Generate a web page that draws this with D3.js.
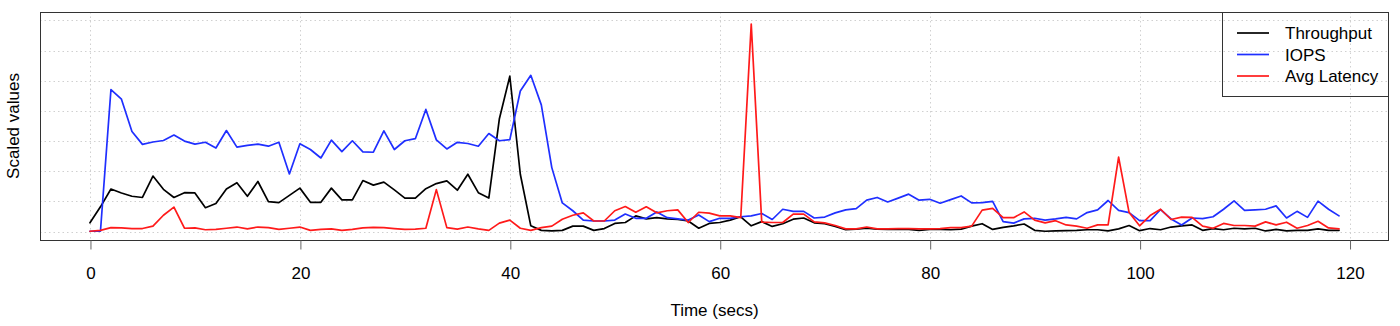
<!DOCTYPE html>
<html>
<head>
<meta charset="utf-8">
<script src="https://cdn.jsdelivr.net/npm/d3@7/dist/d3.min.js"></script>
<style>
  html, body { margin: 0; padding: 0; background: #fff; }
  svg { display: block; font-family: "Liberation Sans", Arial, Helvetica, sans-serif; }
</style>
</head>
<body>
<svg id="chart" width="1400" height="326"></svg>
<script>
// Per-second samples, scaled onto a common axis
const seconds = d3.range(0, 120);

const throughput = [
  0.29, 0.82, 1.41, 1.28, 1.17, 1.13, 1.84, 1.40, 1.13, 1.29,
  1.28, 0.79, 0.93, 1.41, 1.62, 1.17, 1.66, 0.99, 0.96, 1.20,
  1.44, 0.97, 0.97, 1.44, 1.05, 1.05, 1.69, 1.54, 1.64, 1.38,
  1.11, 1.11, 1.42, 1.59, 1.68, 1.37, 1.90, 1.29, 1.11, 3.73,
  5.15, 1.90, 0.19, 0.04, 0.02, 0.04, 0.18, 0.18, 0.04, 0.10,
  0.27, 0.30, 0.52, 0.42, 0.46, 0.42, 0.40, 0.35, 0.11, 0.27,
  0.30, 0.38, 0.49, 0.19, 0.33, 0.17, 0.26, 0.41, 0.45, 0.29,
  0.26, 0.17, 0.06, 0.08, 0.11, 0.08, 0.07, 0.07, 0.07, 0.04,
  0.07, 0.07, 0.06, 0.08, 0.18, 0.26, 0.07, 0.14, 0.19, 0.25,
  0.04, 0.01, 0.02, 0.03, 0.04, 0.06, 0.06, 0.02, 0.09, 0.20,
  0.03, 0.10, 0.06, 0.15, 0.19, 0.22, 0.04, 0.10, 0.06, 0.11,
  0.09, 0.11, 0.02, 0.07, 0.02, 0.04, 0.04, 0.09, 0.04, 0.04
];

const iops = [
  0.01, 0.01, 4.71, 4.39, 3.32, 2.89, 2.97, 3.02, 3.20, 3.00,
  2.90, 2.96, 2.77, 3.35, 2.80, 2.86, 2.90, 2.83, 2.96, 1.91,
  2.91, 2.72, 2.44, 3.03, 2.65, 3.01, 2.64, 2.63, 3.34, 2.72,
  3.01, 3.08, 4.05, 3.04, 2.74, 2.96, 2.92, 2.83, 3.25, 3.01,
  3.05, 4.66, 5.18, 4.20, 2.12, 0.95, 0.69, 0.38, 0.35, 0.35,
  0.38, 0.58, 0.44, 0.44, 0.65, 0.46, 0.42, 0.38, 0.55, 0.33,
  0.44, 0.44, 0.49, 0.52, 0.60, 0.40, 0.74, 0.67, 0.67, 0.45,
  0.48, 0.62, 0.72, 0.76, 1.04, 1.13, 0.98, 1.11, 1.24, 1.04,
  1.07, 0.94, 1.06, 1.18, 0.95, 0.96, 1.00, 0.33, 0.28, 0.42,
  0.44, 0.38, 0.42, 0.47, 0.42, 0.63, 0.72, 1.03, 0.70, 0.63,
  0.36, 0.36, 0.73, 0.42, 0.22, 0.45, 0.43, 0.49, 0.74, 1.02,
  0.70, 0.72, 0.74, 0.85, 0.45, 0.67, 0.47, 1.01, 0.74, 0.52
];

const avgLatency = [
  0.01, 0.04, 0.13, 0.12, 0.10, 0.10, 0.18, 0.54, 0.81, 0.11,
  0.12, 0.06, 0.07, 0.11, 0.15, 0.09, 0.15, 0.13, 0.07, 0.11,
  0.15, 0.04, 0.07, 0.09, 0.04, 0.07, 0.12, 0.14, 0.13, 0.10,
  0.07, 0.08, 0.11, 1.39, 0.13, 0.08, 0.15, 0.09, 0.04, 0.28,
  0.38, 0.11, 0.04, 0.13, 0.18, 0.41, 0.54, 0.62, 0.35, 0.35,
  0.69, 0.83, 0.64, 0.82, 0.62, 0.69, 0.72, 0.30, 0.64, 0.61,
  0.52, 0.52, 0.46, 6.88, 0.31, 0.30, 0.30, 0.58, 0.58, 0.32,
  0.29, 0.20, 0.09, 0.09, 0.15, 0.09, 0.09, 0.10, 0.10, 0.09,
  0.09, 0.10, 0.13, 0.13, 0.18, 0.71, 0.77, 0.46, 0.46, 0.65,
  0.38, 0.29, 0.36, 0.22, 0.18, 0.11, 0.22, 0.22, 2.47, 0.63,
  0.19, 0.53, 0.74, 0.40, 0.48, 0.47, 0.18, 0.11, 0.27, 0.20,
  0.20, 0.18, 0.32, 0.22, 0.31, 0.11, 0.20, 0.34, 0.12, 0.09
];

const xTicks = [0, 20, 40, 60, 80, 100, 120];
const yGrid = [0, 1, 2, 3, 4, 5, 6, 7];

const seriesNames = ["Throughput", "IOPS", "Avg Latency"];
const seriesColors = ["#000000", "#1f2fff", "#ff1a1a"];
const seriesValues = [throughput, iops, avgLatency];

// Plot region
const box = { left: 40, right: 1389, top: 12, bottom: 240 };

// Data extents with 4% padding on each side
const xMin = 0, xMax = 119, yMin = 0, yMax = 7;
const xPad = (xMax - xMin) * 0.04, yPad = (yMax - yMin) * 0.04;

const x = d3.scaleLinear().domain([xMin - xPad, xMax + xPad]).range([box.left, box.right]);
const y = d3.scaleLinear().domain([yMin - yPad, yMax + yPad]).range([box.bottom, box.top]);

const svg = d3.select("#chart");

// Dotted grid
const grid = svg.append("g")
  .attr("stroke", "#d0d0d0")
  .attr("stroke-width", 1)
  .attr("stroke-dasharray", "1.5,3");
grid.selectAll("line.v").data(xTicks).join("line")
  .attr("class", "v")
  .attr("x1", d => Math.round(x(d)) + 0.5).attr("x2", d => Math.round(x(d)) + 0.5)
  .attr("y1", box.top).attr("y2", box.bottom);
grid.selectAll("line.h").data(yGrid).join("line")
  .attr("class", "h")
  .attr("x1", box.left).attr("x2", box.right)
  .attr("y1", d => Math.round(y(d)) + 0.5).attr("y2", d => Math.round(y(d)) + 0.5);

// Series lines
const line = d3.line()
  .x((d, i) => x(seconds[i]))
  .y(d => y(d));

svg.append("g")
  .attr("fill", "none")
  .attr("stroke-width", 1.7)
  .attr("stroke-linejoin", "round")
  .attr("stroke-linecap", "round")
  .selectAll("path")
  .data(seriesValues)
  .join("path")
  .attr("stroke", (d, i) => seriesColors[i])
  .attr("d", line);

// Frame
svg.append("rect")
  .attr("x", box.left + 0.5).attr("y", box.top + 0.5)
  .attr("width", box.right - box.left - 1).attr("height", box.bottom - box.top)
  .attr("fill", "none")
  .attr("stroke", "#333")
  .attr("stroke-width", 1);

// Bottom axis
const xAxis = d3.axisBottom(x)
  .tickValues(xTicks)
  .tickSize(9)
  .tickPadding(17)
  .tickFormat(d3.format("d"));
const gx = svg.append("g")
  .attr("transform", `translate(0.5,${box.bottom + 0.5})`)
  .call(xAxis);
gx.select(".domain").remove();
gx.selectAll(".tick line").attr("stroke", "#666");
gx.selectAll(".tick text")
  .attr("fill", "#000")
  .style("font-size", "17px")
  .style("font-family", "'Liberation Sans', Arial, Helvetica, sans-serif");

// Axis titles
svg.append("text")
  .attr("x", (box.left + box.right) / 2)
  .attr("y", 316)
  .attr("text-anchor", "middle")
  .style("font-size", "17px")
  .text("Time (secs)");

svg.append("text")
  .attr("transform", `translate(19,${(box.top + box.bottom) / 2}) rotate(-90)`)
  .attr("text-anchor", "middle")
  .style("font-size", "17px")
  .text("Scaled values");

// Legend
const legend = { left: 1222, top: 12, bottom: 96, right: box.right };
svg.append("rect")
  .attr("x", legend.left + 0.5).attr("y", legend.top + 0.5)
  .attr("width", legend.right - legend.left - 1).attr("height", legend.bottom - legend.top)
  .attr("fill", "none")
  .attr("stroke", "#333")
  .attr("stroke-width", 1);

const rowY = [33, 54.5, 76];
const items = svg.append("g").selectAll("g")
  .data(seriesNames)
  .join("g")
  .attr("transform", (d, i) => `translate(0,${rowY[i]})`);
items.append("line")
  .attr("x1", 1237).attr("x2", 1269)
  .attr("y1", 0).attr("y2", 0)
  .attr("stroke", (d, i) => seriesColors[i])
  .attr("stroke-width", 1.7);
items.append("text")
  .attr("x", 1285)
  .attr("y", 6)
  .style("font-size", "17px")
  .text(d => d);
</script>
</body>
</html>
